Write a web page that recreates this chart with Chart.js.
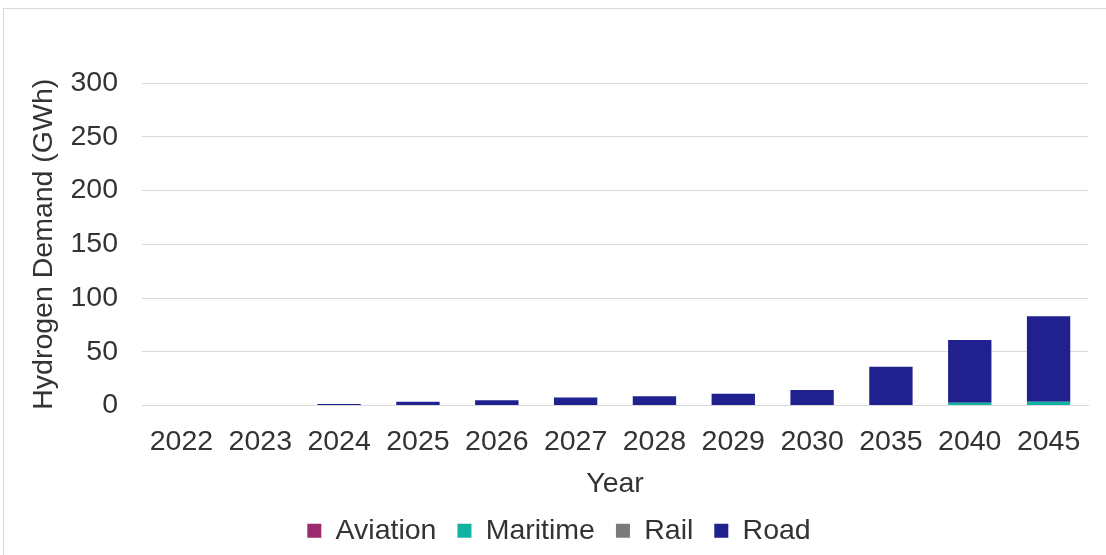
<!DOCTYPE html>
<html>
<head>
<meta charset="utf-8">
<script src="https://cdn.jsdelivr.net/npm/chart.js@4"></script>
<style>
  html, body { margin: 0; padding: 0; background: #fff; overflow: hidden; }
  #wrap { position: relative; width: 1106px; height: 555px; }
  #frame { position: absolute; left: 3px; top: 8px; right: 0; bottom: 0; border-left: 1px solid #d9d9d9; border-top: 1px solid #d9d9d9; pointer-events: none; }
  canvas { display: block; }
</style>
</head>
<body>
<div id="wrap"><canvas id="chart"></canvas><div id="frame"></div></div>
<script>
// hydrogen demand by transport mode, GWh
const years = ['2022', '2023', '2024', '2025', '2026', '2027', '2028', '2029', '2030', '2035', '2040', '2045'];
const aviation = [0, 0, 0, 0, 0, 0, 0, 0, 0, 0, 0, 0];
const maritime = [0, 0, 0, 0, 0, 0, 0, 0, 0, 0, 2.5, 3.5];
const rail = [0, 0, 0, 0, 0, 0, 0, 0, 0, 0, 0, 0];
const road = [0, 0, 1.5, 3.5, 5, 7.5, 8.5, 11, 14.5, 36, 58.5, 79.5];
const yTicks = [0, 50, 100, 150, 200, 250, 300];

const font = { family: 'Liberation Sans, Arial, sans-serif', size: 28.5 };
const tightFont = { ...font, lineHeight: 1 };
const textColor = '#333333';
const canvas = document.getElementById('chart');
const ctx = canvas.getContext('2d');

function series(label, data, color) {
  return { label, data, backgroundColor: color, borderWidth: 0, barPercentage: 0.55, categoryPercentage: 1 };
}

new Chart(ctx, {
  type: 'bar',
  data: {
    labels: years,
    datasets: [
      series('Aviation', aviation, '#9c2a6e'),
      series('Maritime', maritime, '#12b3a0'),
      series('Rail', rail, '#7b7b7b'),
      series('Road', road, '#20208f'),
    ],
  },
  options: {
    responsive: true,
    maintainAspectRatio: false,
    animation: false,
    layout: { padding: { left: 30, right: 18, top: 83, bottom: 0 } },
    plugins: {
      tooltip: { enabled: false },
      legend: {
        position: 'bottom',
        labels: {
          font,
          color: textColor,
          boxWidth: 14,
          boxHeight: 14,
          padding: 21,
          useBorderRadius: false,
        },
      },
    },
    scales: {
      x: {
        stacked: true,
        grid: { display: false, drawTicks: false },
        border: { color: '#d9d9d9', width: 1 },
        ticks: { font: tightFont, color: textColor, padding: 22, maxRotation: 0 },
        title: { display: true, text: 'Year', font: tightFont, color: textColor, padding: { top: -8, bottom: -3 } },
      },
      y: {
        stacked: true,
        min: 0,
        max: 300,
        afterBuildTicks: (axis) => { axis.ticks = yTicks.map(v => ({ value: v })); },
        grid: { color: '#d9d9d9', drawTicks: false },
        border: { display: false },
        ticks: { font, color: textColor, padding: 24 },
        title: { display: true, text: 'Hydrogen Demand (GWh)', font: tightFont, color: textColor, padding: { top: 0, bottom: -12 } },
      },
    },
  },
});
</script>
</body>
</html>
